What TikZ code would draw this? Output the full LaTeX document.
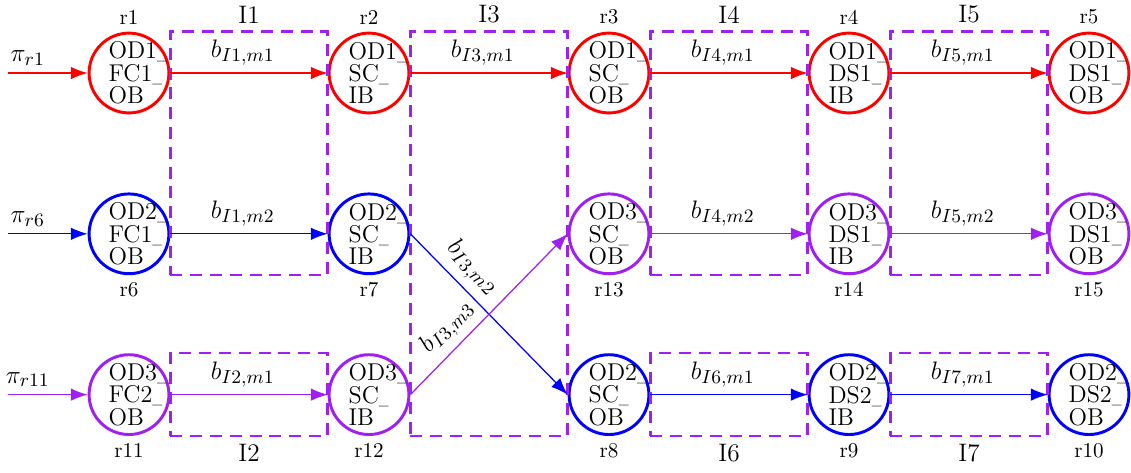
\documentclass[tikz,border=0pt]{standalone}
\usepackage{xcolor}
\usepackage{graphicx}
\usepackage{tikz}
\usetikzlibrary{arrows.meta,positioning,fit}
\definecolor{vio}{RGB}{160,32,240}
\newcommand{\us}{\scalebox{0.55}[1]{\_}}
\tikzset{
  router/.style={draw, circle, line width=1.4pt, minimum size=1.33cm, inner sep=-4.5pt, text width=1.3cm, align=left,
    execute at begin node={\leftskip=0.31cm}, text=black, font=\fontsize{11.5}{9}\selectfont},
  rlab/.style={font=\normalsize, text=black},
  ilab/.style={font=\large, text=black},
  ibox/.style={draw=vio, dash pattern=on 2mm off 1.3mm, line width=1.1pt, inner sep=0pt},
  link/.style={-{Latex[length=8pt,width=6pt]}, line width=0.6pt},
  blab/.style={font=\fontsize{13}{15}\selectfont, text=black, above}
}

\begin{document}
\begin{tikzpicture}[node distance=2.68cm and 4cm, on grid]
  \useasboundingbox (-2.15,1.217) rectangle (16.7,-6.65);

  % routers, top row
  \node[router, draw=red, label={[rlab]above:r1}] (r1) {OD1\us\\FC1\us\\OB};
  \node[router, draw=red, label={[rlab]above:r2}, right=of r1] (r2) {OD1\us\\SC\us\\IB};
  \node[router, draw=red, label={[rlab]above:r3}, right=of r2] (r3) {OD1\us\\SC\us\\OB};
  \node[router, draw=red, label={[rlab]above:r4}, right=of r3] (r4) {OD1\us\\DS1\us\\IB};
  \node[router, draw=red, label={[rlab]above:r5}, right=of r4] (r5) {OD1\us\\DS1\us\\OB};
  % middle row
  \node[router, draw=blue, label={[rlab]below:r6}, below=of r1] (r6) {OD2\us\\FC1\us\\OB};
  \node[router, draw=blue, label={[rlab]below:r7}, right=of r6] (r7) {OD2\us\\SC\us\\IB};
  \node[router, draw=vio, label={[rlab]below:r13}, below=of r3] (r13) {OD3\us\\SC\us\\OB};
  \node[router, draw=vio, label={[rlab]below:r14}, below=of r4] (r14) {OD3\us\\DS1\us\\IB};
  \node[router, draw=vio, label={[rlab]below:r15}, below=of r5] (r15) {OD3\us\\DS1\us\\OB};
  % bottom row
  \node[router, draw=vio, label={[rlab]below:r11}, below=of r6] (r11) {OD3\us\\FC2\us\\OB};
  \node[router, draw=vio, label={[rlab]below:r12}, right=of r11] (r12) {OD3\us\\SC\us\\IB};
  \node[router, draw=blue, label={[rlab]below:r8}, right=of r12] (r8) {OD2\us\\SC\us\\OB};
  \node[router, draw=blue, label={[rlab]below:r9}, right=of r8] (r9) {OD2\us\\DS2\us\\IB};
  \node[router, draw=blue, label={[rlab]below:r10}, right=of r9] (r10) {OD2\us\\DS2\us\\OB};

  % interfaces
  \node[ibox, fit=(r1.north -| r1.east) (r7.south -| r7.west), label={[ilab]above:I1}] (I1) {};
  \node[ibox, fit=(r11.north -| r11.east) (r12.south -| r12.west), label={[ilab]below:I2}] (I2) {};
  \node[ibox, fit=(r2.north -| r2.east) (r8.south -| r8.west), label={[ilab]above:I3}] (I3) {};
  \node[ibox, fit=(r3.north -| r3.east) (r14.south -| r14.west), label={[ilab]above:I4}] (I4) {};
  \node[ibox, fit=(r4.north -| r4.east) (r15.south -| r15.west), label={[ilab]above:I5}] (I5) {};
  \node[ibox, fit=(r8.north -| r8.east) (r9.south -| r9.west), label={[ilab]below:I6}] (I6) {};
  \node[ibox, fit=(r9.north -| r9.east) (r10.south -| r10.west), label={[ilab]below:I7}] (I7) {};

  % inputs
  \coordinate[left=2.02cm of r1] (in1);
  \coordinate[left=2.02cm of r6] (in6);
  \coordinate[left=2.02cm of r11] (in11);
  \draw[link, draw=red] (in1) -- node[blab, pos=0.25] {$\pi_{r1}$} (r1);
  \draw[link, draw=blue] (in6) -- node[blab, pos=0.25] {$\pi_{r6}$} (r6);
  \draw[link, draw=vio] (in11) -- node[blab, pos=0.25] {$\pi_{r11}$} (r11);

  % links
  \draw[link, draw=red] (r1) -- node[blab, pos=0.46] {$b_{I1,m1}$} (r2);
  \draw[link, draw=red] (r2) -- node[blab, pos=0.46] {$b_{I3,m1}$} (r3);
  \draw[link, draw=red] (r3) -- node[blab, pos=0.46] {$b_{I4,m1}$} (r4);
  \draw[link, draw=red] (r4) -- node[blab, pos=0.46] {$b_{I5,m1}$} (r5);
  \draw[link, draw=blue] (r6) -- node[blab, pos=0.46] {$b_{I1,m2}$} (r7);
  \draw[link, draw=blue] (r7.east) -- node[blab, sloped, pos=0.3] {$b_{I3,m2}$} (r8.west);
  \draw[link, draw=vio] (r12.east) -- node[blab, sloped, pos=0.33] {$b_{I3,m3}$} (r13.west);
  \draw[link, draw=vio] (r13) -- node[blab, pos=0.46] {$b_{I4,m2}$} (r14);
  \draw[link, draw=vio] (r14) -- node[blab, pos=0.46] {$b_{I5,m2}$} (r15);
  \draw[link, draw=vio] (r11) -- node[blab, pos=0.46] {$b_{I2,m1}$} (r12);
  \draw[link, draw=blue] (r8) -- node[blab, pos=0.46] {$b_{I6,m1}$} (r9);
  \draw[link, draw=blue] (r9) -- node[blab, pos=0.46] {$b_{I7,m1}$} (r10);
\end{tikzpicture}
\end{document}
